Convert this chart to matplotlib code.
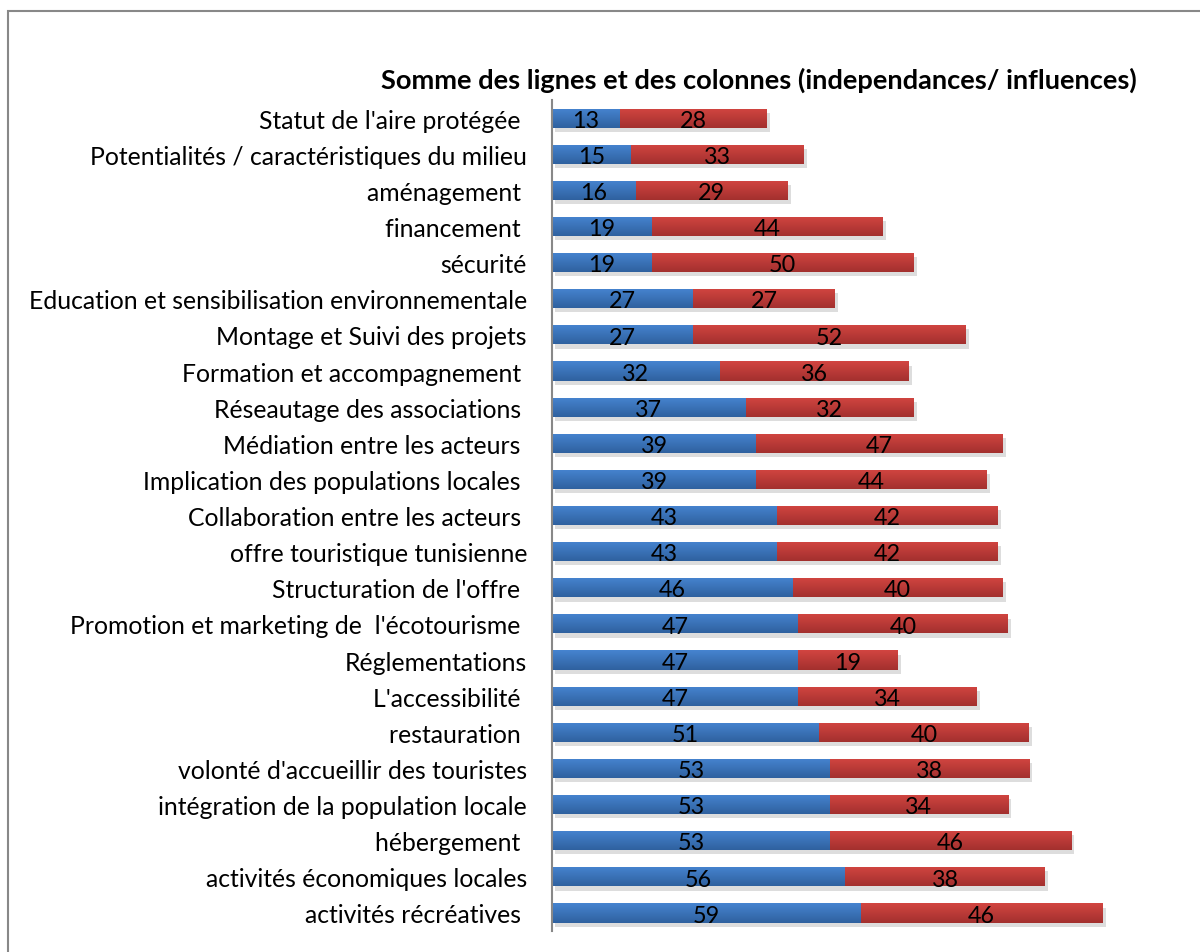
import matplotlib
matplotlib.use("Agg")
import matplotlib.pyplot as plt
import matplotlib.patheffects as pe
from matplotlib.patches import Rectangle
import numpy as np

categories = [
    "Statut de l'aire protégée ",
    "Potentialités / caractéristiques du milieu",
    "aménagement ",
    "financement ",
    "sécurité",
    "Education et sensibilisation environnementale",
    "Montage et Suivi des projets",
    "Formation et accompagnement ",
    "Réseautage des associations ",
    "Médiation entre les acteurs ",
    "Implication des populations locales ",
    "Collaboration entre les acteurs ",
    "offre touristique tunisienne",
    "Structuration de l'offre ",
    "Promotion et marketing de  l'écotourisme ",
    "Réglementations",
    "L'accessibilité ",
    "restauration ",
    "volonté d'accueillir des touristes",
    "intégration de la population locale",
    "hébergement ",
    "activités économiques locales",
    "activités récréatives ",
]
independance = [13, 15, 16, 19, 19, 27, 27, 32, 37, 39, 39, 43, 43, 46, 47, 47, 47, 51, 53, 53, 53, 56, 59]
influence = [28, 33, 29, 44, 50, 27, 52, 36, 32, 47, 44, 42, 42, 40, 40, 19, 34, 40, 38, 34, 46, 38, 46]
title = "Somme des lignes et des colonnes (independances/ influences)"

plt.rcParams['font.family'] = ['Lato', 'DejaVu Sans']

fig = plt.figure(figsize=(12, 9.53), dpi=100)
ax = fig.add_axes([0.46, 0.022, 0.51, 0.872])

y = np.arange(len(categories))
shadow = [pe.SimplePatchShadow(offset=(2.5, -3), shadow_rgbFace='#909090', alpha=0.3), pe.Normal()]
b1 = ax.barh(y, independance, height=0.53, color='#3C77C2', path_effects=shadow, zorder=2)
b2 = ax.barh(y, influence, left=independance, height=0.53, color='#C63C39', path_effects=shadow, zorder=2)

def gradient(bars, top, bottom):
    grad = np.linspace(0, 1, 64).reshape(-1, 1)
    c_top = np.array(matplotlib.colors.to_rgb(top))
    c_bot = np.array(matplotlib.colors.to_rgb(bottom))
    img = c_top[None, None, :] * (1 - grad[:, :, None]) + c_bot[None, None, :] * grad[:, :, None]
    for p in bars:
        x0, y0 = p.get_x(), p.get_y()
        w, h = p.get_width(), p.get_height()
        im = ax.imshow(img, extent=(x0, x0 + w, y0 + h, y0), aspect='auto', zorder=3, interpolation='bilinear')
        im.set_clip_path(p)

gradient(b1, '#4684D0', '#2F619F')
gradient(b2, '#D24541', '#A3302E')

for bars, vals in ((b1, independance), (b2, influence)):
    for p, v in zip(bars, vals):
        ax.text(p.get_x() + p.get_width() / 2, p.get_y() + p.get_height() / 2 + 0.06, str(v),
                ha='center', va='center', fontsize=16.8, color='black', zorder=4)

ax.set_ylim(len(categories) - 0.5, -0.5)
ax.set_xlim(0, 116.8)
ax.set_yticks(y)
ax.set_yticklabels(categories, fontsize=17.8)
ax.tick_params(axis='y', length=0, pad=18)
ax.set_xticks([])
for s in ['top', 'right', 'bottom']:
    ax.spines[s].set_visible(False)
ax.spines['left'].set_color('#888888')
ax.spines['left'].set_linewidth(1.5)
ax.spines['left'].set_zorder(5)

fig.text(0.6325, 1 - 80 / 953, title, ha='center', va='center', fontsize=19.6, fontweight='bold')

fig.patches.append(Rectangle((8 / 1200, -0.05), 1.2, 1 - 12 / 953 + 0.05, transform=fig.transFigure,
                             fill=False, edgecolor='#888888', linewidth=1.5, zorder=0))

fig.savefig('out.png', dpi=100)
